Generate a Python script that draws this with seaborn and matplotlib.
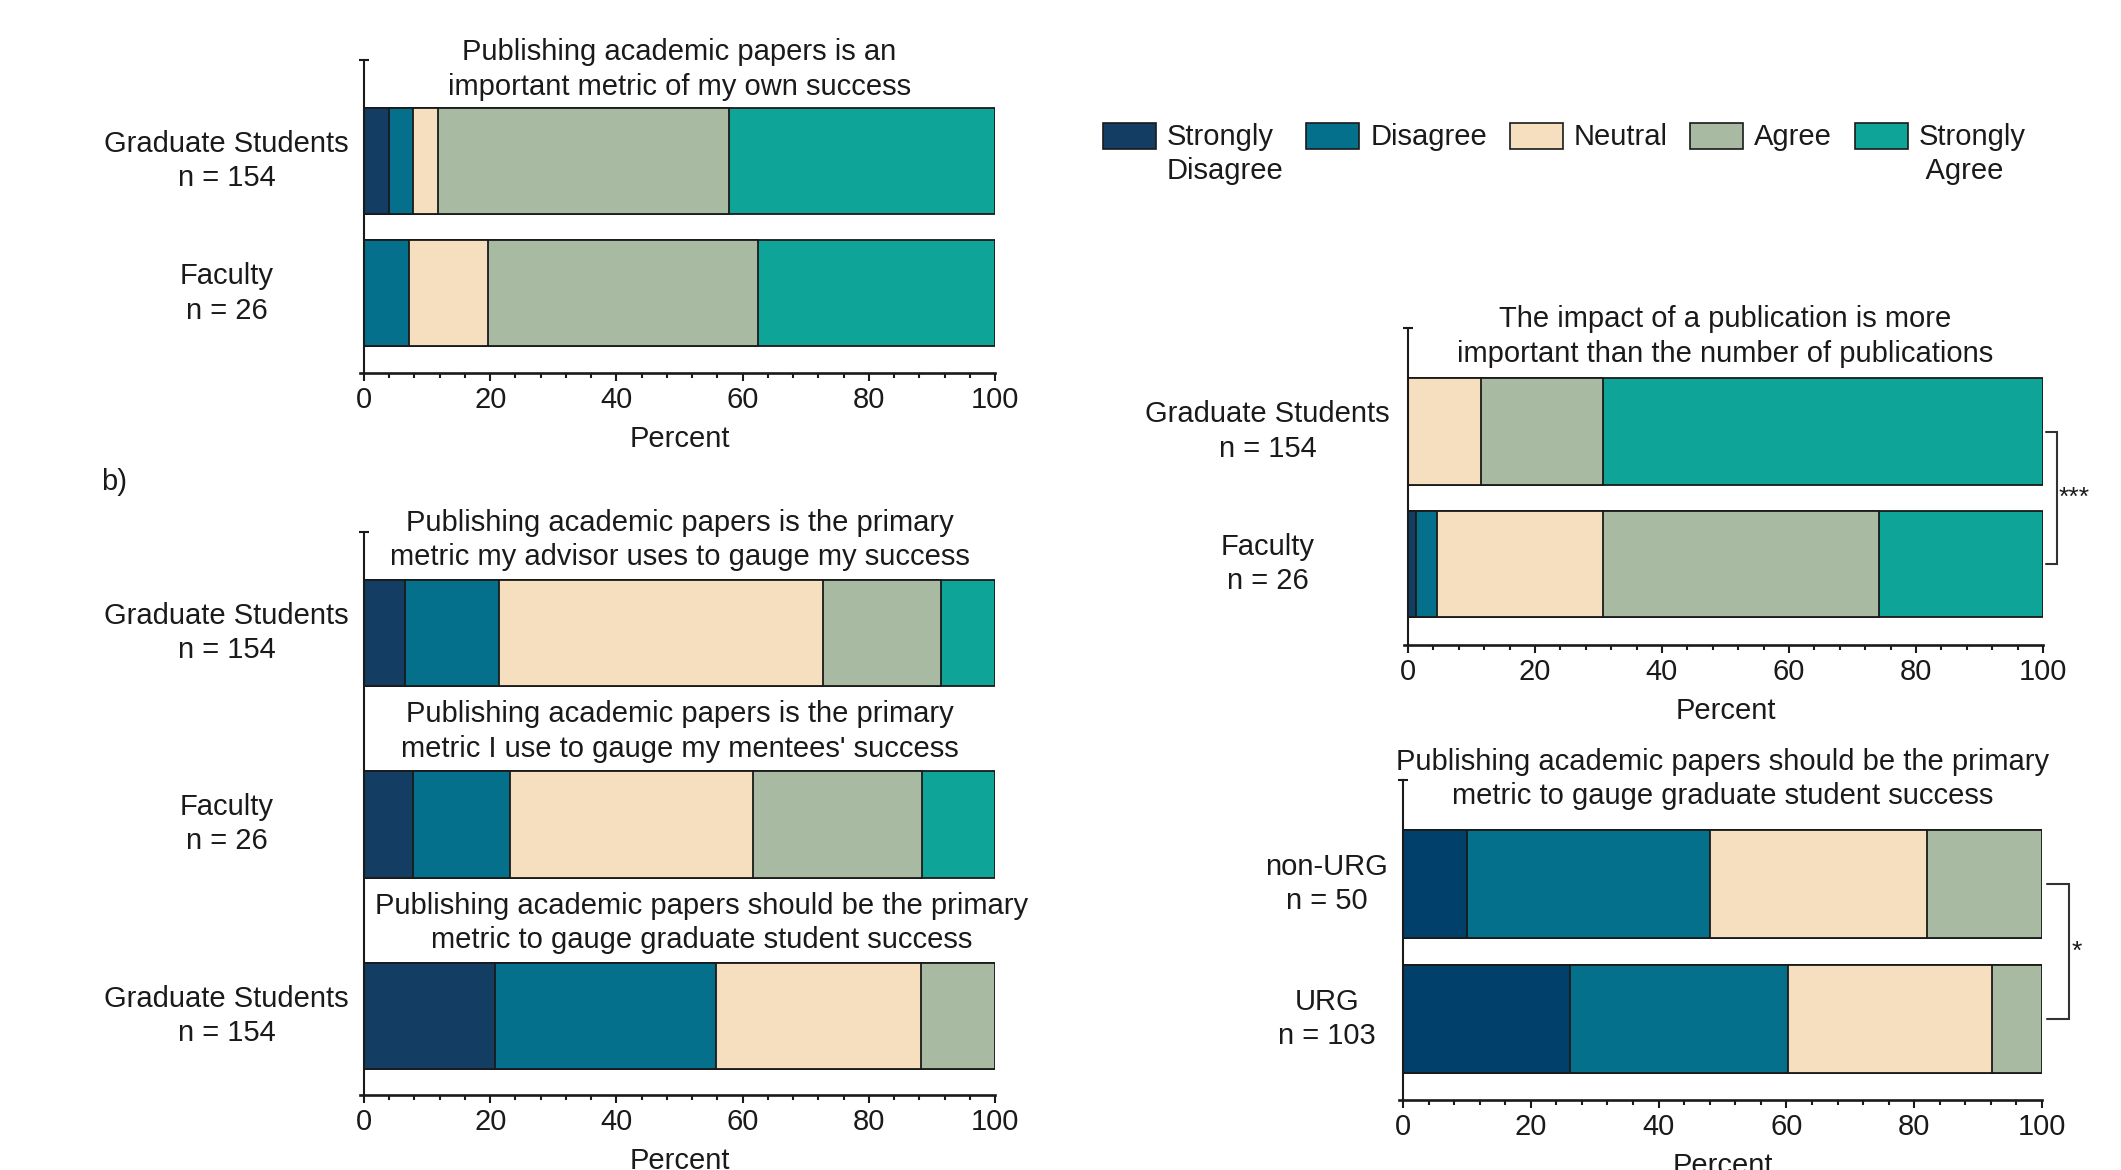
import numpy as np
import pandas as pd
import matplotlib
matplotlib.use("Agg")
import matplotlib.pyplot as plt
from matplotlib.patches import Patch
from matplotlib.ticker import MultipleLocator
import seaborn as sns

# ---- response levels and colours ----
levels = ["Strongly Disagree", "Disagree", "Neutral", "Agree", "Strongly Agree"]
legend_labels = ["Strongly\nDisagree", "Disagree", "Neutral", "Agree", "Strongly\n Agree"]
level_colors = ["#133d63", "#05708b", "#f6dfbe", "#a8bba2", "#0ea598"]
urg_colors = ["#01406a", "#05708b", "#f6dfbe", "#a8bba2", "#0ea598"]

# ---- panel: own success (percent per level) ----
own_groups = ["Graduate Students\nn = 154", "Faculty\nn = 26"]
own_title = "Publishing academic papers is an\nimportant metric of my own success"
own_grad = [3.9, 3.9, 3.9, 46.1, 42.2]
own_fac = [0.0, 7.1, 12.5, 42.8, 37.6]

# ---- panel b: primary metric questions ----
b_groups = ["Graduate Students\nn = 154", "Faculty\nn = 26", "Graduate Students\nn = 154"]
b_titles = [
    "Publishing academic papers is the primary\nmetric my advisor uses to gauge my success",
    "Publishing academic papers is the primary\nmetric I use to gauge my mentees' success",
    "Publishing academic papers should be the primary\nmetric to gauge graduate student success",
]
advisor_grad = [6.5, 14.9, 51.3, 18.8, 8.5]
mentee_fac = [7.7, 15.4, 38.5, 26.9, 11.5]
should_grad = [20.8, 35.0, 32.5, 11.7, 0.0]

# ---- panel: impact vs number ----
impact_groups = ["Graduate Students\nn = 154", "Faculty\nn = 26"]
impact_title = "The impact of a publication is more\nimportant than the number of publications"
impact_grad = [0.0, 0.0, 11.5, 19.2, 69.3]
impact_fac = [1.3, 3.3, 26.1, 43.4, 25.9]

# ---- panel: URG comparison ----
urg_groups = ["non-URG\nn = 50", "URG\nn = 103"]
urg_title = "Publishing academic papers should be the primary\nmetric to gauge graduate student success"
nonurg_vals = [10.0, 38.0, 34.0, 18.0, 0.0]
urg_vals = [26.2, 34.0, 32.0, 7.8, 0.0]

FS = 21
LS = 1.28
TXT = "#1a1a1a"

sns.set_style("ticks")
plt.rcParams["font.family"] = ["Liberation Sans", "DejaVu Sans"]
plt.rcParams["text.color"] = TXT
plt.rcParams["axes.labelcolor"] = TXT
plt.rcParams["xtick.color"] = TXT
plt.rcParams["ytick.color"] = TXT
plt.rcParams["axes.edgecolor"] = TXT

W, H = 2121, 1170
fig = plt.figure(figsize=(W / 100, H / 100), dpi=100)


def rect(left, right, top, bottom):
    return [left / W, 1 - bottom / H, (right - left) / W, (bottom - top) / H]


def stacked(ax, rows, groups, width, colors, ylim, pad):
    df = pd.DataFrame(rows, columns=levels)
    df["row"] = np.arange(len(rows))
    cum = df[levels].cumsum(axis=1)
    # draw cumulative totals from the widest down so each segment shows
    for lev, col in reversed(list(zip(levels, colors))):
        sns.barplot(x=cum[lev], y=df["row"], orient="h", color=col,
                    width=width, edgecolor="#1a1a1a", linewidth=1.3,
                    saturation=1, errorbar=None, ax=ax)
    ax.set_xlim(0, 100)
    ax.set_ylim(*ylim)
    ax.set_yticks(np.arange(len(rows)))
    ax.set_yticklabels(groups, ha="center", va="center", linespacing=LS)
    ax.set_yticks([ylim[1]], minor=True)
    ax.xaxis.set_major_locator(MultipleLocator(20))
    ax.xaxis.set_minor_locator(MultipleLocator(4))
    ax.tick_params(axis="x", which="major", length=6, width=1.5, pad=3.5,
                   labelsize=FS, direction="out")
    ax.tick_params(axis="x", which="minor", length=3.6, width=1.5, direction="out")
    ax.tick_params(axis="y", which="major", length=0, pad=pad, labelsize=FS)
    ax.tick_params(axis="y", which="minor", length=6.5, width=1.5, direction="inout")
    sns.despine(ax=ax)
    ax.spines["left"].set_linewidth(1.5)
    ax.spines["bottom"].set_linewidth(1.9)
    ax.spines["bottom"].set_bounds(-0.7, 100)
    ax.set_xlabel("Percent", fontsize=FS, labelpad=8)
    ax.set_ylabel("")


def bracket(ax, x0, x1, label, xs):
    ax.plot([x0, x1, x1, x0], [0, 0, 1, 1], color="#333333", lw=1.5,
            clip_on=False, solid_joinstyle="miter")
    ax.text(xs, 0.5, label, ha="left", va="center", fontsize=19, color=TXT,
            clip_on=False)


# own success
ax_a = fig.add_axes(rect(364, 995, 60, 373))
stacked(ax_a, [own_grad, own_fac], own_groups, 0.8, level_colors, (1.6, -0.762), 99)
ax_a.text(50, -0.69, own_title, ha="center", va="center", fontsize=FS, linespacing=LS)

# panel b
ax_b = fig.add_axes(rect(364, 995, 532, 1095))
stacked(ax_b, [advisor_grad, mentee_fac, should_grad], b_groups, 0.555,
        level_colors, (2.413, -0.527), 99)
for i, (t, xc) in enumerate(zip(b_titles, [50, 50, 53.5])):
    ax_b.text(xc, i - 0.485, t, ha="center", va="center", fontsize=FS, linespacing=LS)
fig.text(101 / W, 1 - 482 / H, "b)", ha="left", va="center", fontsize=FS)

# impact vs number
ax_c = fig.add_axes(rect(1408, 2043, 328, 645))
stacked(ax_c, [impact_grad, impact_fac], impact_groups, 0.8, level_colors,
        (1.611, -0.781), 101)
ax_c.text(50, -0.717, impact_title, ha="center", va="center", fontsize=FS, linespacing=LS)
bracket(ax_c, 100.5, 102.2, "***", 102.5)

# URG comparison
ax_d = fig.add_axes(rect(1403, 2042, 780, 1100))
stacked(ax_d, [nonurg_vals, urg_vals], urg_groups, 0.8, urg_colors,
        (1.6, -0.770), 55)
ax_d.text(50, -0.78, urg_title, ha="center", va="center", fontsize=FS, linespacing=LS)
bracket(ax_d, 100.8, 104.2, "*", 104.7)

# legend
handles = [Patch(facecolor=c, edgecolor="#1a1a1a", linewidth=1.2) for c in level_colors]
leg = fig.legend(handles, legend_labels, loc="upper left",
                 bbox_to_anchor=(1103 / W, 1 - 123 / H), ncol=5, frameon=False,
                 fontsize=FS, handlelength=1.82, handleheight=0.98,
                 handletextpad=0.37, columnspacing=0.78, borderpad=0,
                 borderaxespad=0, labelspacing=0)
for t in leg.get_texts():
    t.set_linespacing(LS)
leg._legend_handle_box.align = "top"
for column in leg._legend_handle_box.get_children():
    column.align = "left"
    for item in column.get_children():
        item.align = "top"

fig.savefig("out.png", dpi=100, facecolor="white")
